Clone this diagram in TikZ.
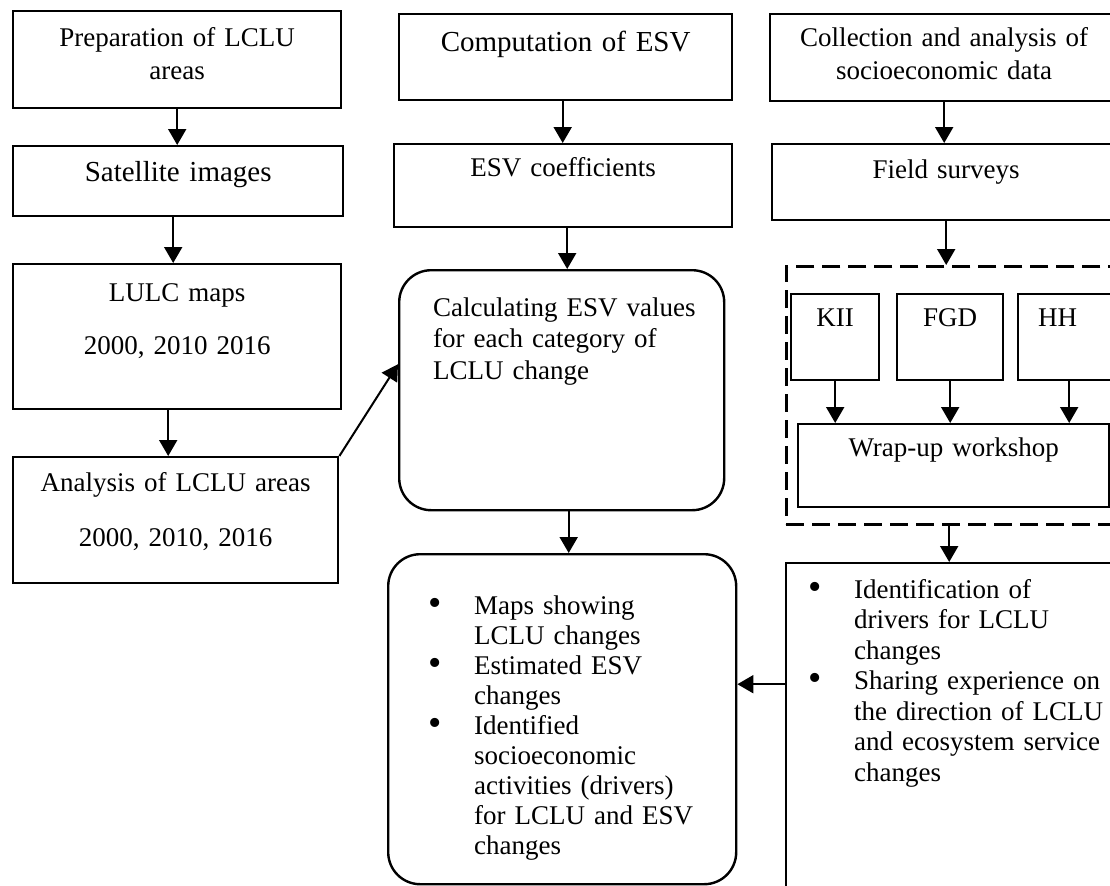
\documentclass[tikz,border=0pt]{standalone}
\usepackage{fontspec}
\setmainfont{Liberation Serif}
\usetikzlibrary{arrows.meta}

\newcommand{\bulletmark}{\makebox[23pt][l]{\raisebox{-0.5pt}{\fontsize{19}{15}\selectfont\textbullet}}}

\begin{document}
\begin{tikzpicture}[%
        x = 0.5pt,
        y = -0.5pt,
        line width = 1pt,
        Box/.style = {draw, line width = 1.2pt, anchor = north west,
            inner sep = 0pt, align = center,
            font = \fontsize{13.5}{16.5}\selectfont},
        Big_Box/.style = {Box, font = \fontsize{14.5}{17}\selectfont},
        Round_Box/.style = {Box, rounded corners = 16pt, align = left},
        Group_Box/.style = {draw, line width = 1.4pt, dash pattern = on 9pt off 4pt,
            anchor = north west, inner sep = 0pt},
        Arrow/.style = {-{Triangle[length = 8pt, width = 9pt]}, line width = 1pt}
    ]
        % Page frame, cut where the figure is cut.
        \fill[white] (0, 0) rectangle (1110, 885);
        \useasboundingbox (0, 0) rectangle (1110, 885);
        \clip (0, 0) rectangle (1110, 885);

        % Left column: land cover maps.
        \node[Box, text width = 164pt, text height = 17.5pt, text depth = 31pt]
            (Prep) at (12, 10) {Preparation of LCLU\\areas};
        \node[Big_Box, text width = 165pt, text height = 17.5pt, text depth = 17.5pt]
            (Sat) at (12, 145) {Satellite images};
        \node[Box, text width = 164pt, text height = 18.5pt, text depth = 54pt]
            (Maps) at (12, 263) {LULC maps\\[10pt]2000, 2010 2016};
        \node[Box, text width = 162.5pt, text height = 17pt, text depth = 46pt]
            (Areas) at (12, 456) {Analysis of LCLU areas\\[11pt]2000, 2010, 2016};

        % Middle column: ecosystem service values.
        \node[Big_Box, text width = 166.5pt, text height = 18.5pt, text depth = 24.5pt]
            (Comp) at (398, 13) {Computation of ESV};
        \node[Box, text width = 169pt, text height = 16pt, text depth = 25.5pt]
            (Coef) at (393, 143) {ESV coefficients};
        \node[Round_Box, text width = 162.5pt, text height = 23pt, text depth = 97pt,
            font = \fontsize{13.5}{15.75}\selectfont]
            (Calc) at (398, 269) {\leftskip = 17pt Calculating ESV values\\
                for each category of\\LCLU change\par};
        \node[Round_Box, text width = 174pt, text height = 30pt, text depth = 135pt,
            font = \fontsize{13.5}{15}\selectfont]
            (Result) at (387, 553) {\leftskip = 20pt
                \bulletmark Maps showing\\
                \hspace*{23pt}LCLU changes\\
                \bulletmark Estimated ESV\\
                \hspace*{23pt}changes\\
                \bulletmark Identified\\
                \hspace*{23pt}socioeconomic\\
                \hspace*{23pt}activities (drivers)\\
                \hspace*{23pt}for LCLU and ESV\\
                \hspace*{23pt}changes\par};

        % Right column: socioeconomic data.
        \node[Box, text width = 174pt, text height = 16pt, text depth = 27.5pt]
            (Coll) at (769, 13) {Collection and analysis of\\socioeconomic data};
        \node[Box, text width = 174pt, text height = 17pt, text depth = 21pt]
            (Field) at (771, 143) {Field surveys};
        \node[Group_Box, minimum width = 170pt, minimum height = 129pt]
            (Group) at (785, 265) {};
        \node[Box, text width = 44pt, text height = 16pt, text depth = 27pt]
            (KII) at (790, 293) {KII};
        \node[Box, text width = 53pt, text height = 16pt, text depth = 27pt]
            (FGD) at (896, 293) {FGD};
        \node[Box, align = left, text width = 51pt, text height = 16pt, text depth = 27pt]
            (HH) at (1017, 293) {\leftskip = 10pt HH\par};
        \node[Box, text width = 155.5pt, text height = 16pt, text depth = 25.5pt]
            (Wrap) at (797, 423) {Wrap-up workshop};
        \node[Box, align = left, text width = 167.5pt, text height = 17.5pt, text depth = 170pt,
            font = \fontsize{13.5}{15.25}\selectfont]
            (Drivers) at (785, 562) {\leftskip = 11pt
                \bulletmark Identification of\\
                \hspace*{23pt}drivers for LCLU\\
                \hspace*{23pt}changes\\
                \bulletmark Sharing experience on\\
                \hspace*{23pt}the direction of LCLU\\
                \hspace*{23pt}and ecosystem service\\
                \hspace*{23pt}changes\par};

        % Arrows down the left column.
        \draw[Arrow] (Prep.south) to (Prep.south |- Sat.north);
        \draw[Arrow] ([xshift = -2.5pt]Sat.south) to ([xshift = -2.5pt]Sat.south |- Maps.north);
        \draw[Arrow] ([xshift = -4.5pt]Maps.south) to ([xshift = -4.5pt]Maps.south |- Areas.north);
        \draw[Arrow] (Areas.north east) to ([yshift = 13pt]Calc.west);

        % Arrows down the middle column.
        \draw[Arrow] ([xshift = -1.5pt]Comp.south) to ([xshift = -1.5pt]Comp.south |- Coef.north);
        \draw[Arrow] ([xshift = 2pt]Coef.south) to ([xshift = 2pt]Coef.south |- Calc.north);
        \draw[Arrow] ([xshift = 3.5pt]Calc.south) to ([xshift = 3.5pt]Calc.south |- Result.north);

        % Arrows down the right column.
        \draw[Arrow] (Coll.south) to (Coll.south |- Field.north);
        \draw[Arrow] (Field.south) to (Field.south |- Group.north);
        \draw[Arrow] (KII.south) to (KII.south |- Wrap.north);
        \draw[Arrow] (FGD.south) to (FGD.south |- Wrap.north);
        \draw[Arrow] (HH.south) to (HH.south |- Wrap.north);
        \draw[Arrow] ([xshift = 1.5pt]Field.south |- Group.south) to ([xshift = 1.5pt]Field.south |- Drivers.north);

        % Feedback from the drivers into the results.
        \coordinate (Feed) at ([yshift = 17.5pt]Result.east);
        \draw[Arrow] (Feed -| Drivers.west) to (Feed);
    \end{tikzpicture}
\end{document}
